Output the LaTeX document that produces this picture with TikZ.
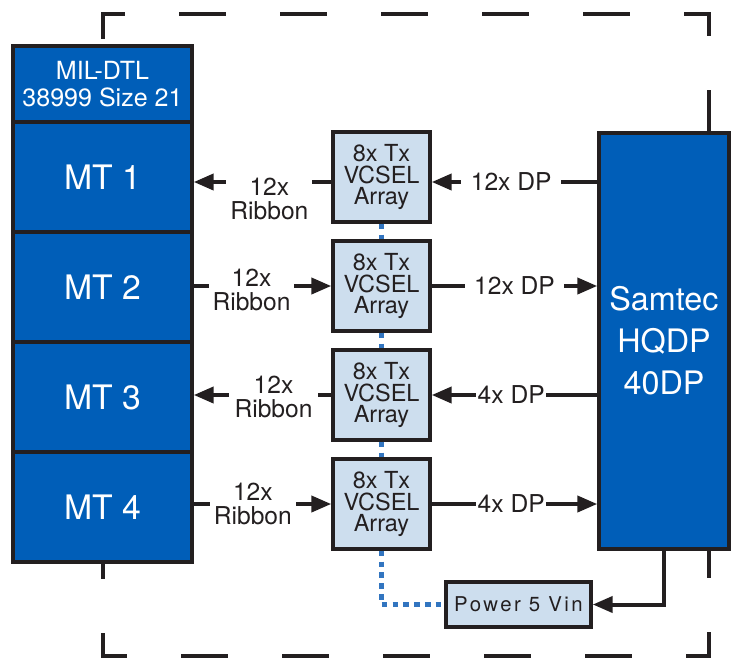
\documentclass[tikz,border=0pt]{standalone}
\usepackage{fontspec}
\setmainfont{TeX Gyre Heros}
\usetikzlibrary{arrows.meta}
\definecolor{navy}{RGB}{0,94,184}
\definecolor{pale}{RGB}{205,222,238}
\definecolor{ink}{RGB}{35,31,32}
\definecolor{dotblue}{RGB}{50,117,192}

\begin{document}
\begin{tikzpicture}[
    x=0.025cm, y=-0.025cm,
    >={Triangle[length=0.5cm, width=0.4cm]},
    conn/.style={draw=ink, line width=0.085cm, fill=navy, text=white, inner sep=0pt,
      minimum width=4.475cm, align=center},
    mt/.style={conn, minimum height=2.75cm, font=\fontsize{24pt}{26pt}\selectfont},
    vcsel/.style={draw=ink, line width=0.085cm, fill=pale, text=ink, inner sep=0pt,
      minimum width=2.425cm, minimum height=2.25cm, align=center,
      font=\fontsize{16.7pt}{15.2pt}\selectfont},
    link/.style={draw=ink, line width=0.1cm},
    lbl/.style={fill=white, text=ink, inner ysep=1pt, align=center,
      font=\fontsize{17.5pt}{17.7pt}\selectfont},
    dots/.style={draw=dotblue, line width=0.11cm, dash pattern=on 0.14cm off 0.13cm},
    frame/.style={draw=ink, line width=0.1125cm, dash pattern=on 1.175cm off 1.35cm}
  ]
    \useasboundingbox (0,0) rectangle (731,660);
    \draw[frame, dash phase=0.3cm] (103,330) -- (103,14) -- (709,14) -- (709,330);
    \draw[frame] (103,330) -- (103,656) -- (709,656) -- (709,330);

    \node[conn, minimum height=1.9cm, font=\fontsize{17.8pt}{19.1pt}\selectfont] (hdr) at (102.5,84) {MIL-DTL\\38999 Size 21};
    \node[mt] (mt1) at (102.5,177) {MT 1};
    \node[mt] (mt2) at (102.5,287) {MT 2};
    \node[mt] (mt3) at (102.5,397) {MT 3};
    \node[mt] (mt4) at (102.5,507) {MT 4};

    \node[vcsel] (vc1) at (381.5,177) {8x Tx\\VCSEL\\Array};
    \node[vcsel] (vc2) at (381.5,286) {8x Tx\\VCSEL\\Array};
    \node[vcsel] (vc3) at (381.5,395) {8x Tx\\VCSEL\\Array};
    \node[vcsel] (vc4) at (381.5,504) {8x Tx\\VCSEL\\Array};

    \node[conn, minimum width=3.25cm, minimum height=10.4cm, font=\fontsize{23pt}{29.8pt}\selectfont] (sam) at (664,341) {Samtec\\HQDP\\40DP};
    \node[vcsel, minimum width=3.625cm, minimum height=1.125cm, font=\fontsize{14.5pt}{16pt}\selectfont\addfontfeature{LetterSpace=12}] (pwr) at (518.5,604.5) {Power 5 Vin};

    \coordinate (r1w) at ([yshift=-0.125cm]vc1.west);
    \coordinate (r1e) at ([yshift=-0.125cm]vc1.east);
    \draw[link, ->] (r1w) -- (mt1.east |- r1w) node[lbl, pos=0.45, yshift=-0.425cm, inner xsep=0.1cm] {12x\\Ribbon};
    \draw[link, ->] (sam.west |- r1e) -- (r1e) node[lbl, pos=0.52, inner xsep=0.24cm] {12x DP};
    \draw[link, ->] (mt2.east |- vc2.west) -- (vc2.west) node[lbl, pos=0.42, yshift=-0.1cm, inner xsep=0.1cm] {12x\\Ribbon};
    \draw[link, ->] (vc2.east) -- (sam.west |- vc2.east) node[lbl, pos=0.5, inner xsep=0.22cm] {12x DP};
    \draw[link, ->] (vc3.west) -- (mt3.east |- vc3.west) node[lbl, pos=0.42, yshift=-0.05cm, inner xsep=0.13cm] {12x\\Ribbon};
    \draw[link, ->] (sam.west |- vc3.east) -- (vc3.east) node[lbl, pos=0.52, inner xsep=1pt] {4x DP};
    \draw[link, ->] (mt4.east |- vc4.west) -- (vc4.west) node[lbl, pos=0.43, inner xsep=0.1cm] {12x\\Ribbon};
    \draw[link, ->] (vc4.east) -- (sam.west |- vc4.east) node[lbl, pos=0.48, inner xsep=1pt] {4x DP};
    \draw[link, ->] (sam.south) |- (pwr.east);

    \draw[dots] (vc1.south) -- (vc2.north);
    \draw[dots] (vc2.south) -- (vc3.north);
    \draw[dots] (vc3.south) -- (vc4.north);
    \draw[dots] (vc4.south) |- (pwr.west);
  \end{tikzpicture}
\end{document}
